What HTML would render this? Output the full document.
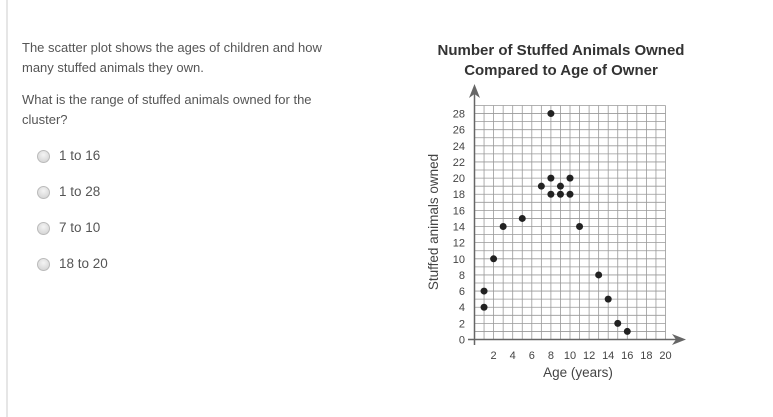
<!DOCTYPE html>
<html><head><style>
body{margin:0;width:773px;height:417px;background:#fff;position:relative;overflow:hidden;font-family:"Liberation Sans",Arial,sans-serif;color:#555}
.bar{position:absolute;left:6px;top:0;width:2px;height:417px;background:#e6e6e6}
.t{position:absolute;left:22px;font-size:13px;line-height:20px}
.r{position:absolute;left:37px;width:11px;height:11px;border-radius:50%;border:1px solid #bbb;background:radial-gradient(circle at 50% 35%,#f4f4f4,#cfcfcf)}
.o{position:absolute;left:59px;font-size:13.5px}
</style></head><body>
<div class="bar"></div>
<div class="t" style="top:38px">The scatter plot shows the ages of children and how<br>many stuffed animals they own.</div>
<div class="t" style="top:90px">What is the range of stuffed animals owned for the<br>cluster?</div>
<div class="r" style="top:150px"></div><div class="o" style="top:148px">1 to 16</div>
<div class="r" style="top:186px"></div><div class="o" style="top:184px">1 to 28</div>
<div class="r" style="top:222px"></div><div class="o" style="top:220px">7 to 10</div>
<div class="r" style="top:258px"></div><div class="o" style="top:256px">18 to 20</div>
<svg width="773" height="417" style="position:absolute;left:0;top:0" font-family="Liberation Sans,Arial,sans-serif">
<text x="561" y="55" text-anchor="middle" font-size="15" font-weight="bold" fill="#333">Number of Stuffed Animals Owned</text>
<text x="561" y="75" text-anchor="middle" font-size="15" font-weight="bold" fill="#333">Compared to Age of Owner</text>
<g id="grid" stroke="#999" stroke-width="0.8"></g>
<line x1="474.5" y1="345" x2="474.5" y2="92" stroke="#666" stroke-width="1.5"/>
<polygon points="474.5,84 469,98 474.5,94 480,98" fill="#666"/>
<line x1="468" y1="339.5" x2="678" y2="339.5" stroke="#666" stroke-width="1.5"/>
<polygon points="686,339.5 672,334 676,339.5 672,345" fill="#666"/>
<g id="yl" font-size="11" fill="#444" text-anchor="end"></g>
<g id="xl" font-size="11" fill="#444" text-anchor="middle"></g>
<text x="578" y="377" text-anchor="middle" font-size="13.5" fill="#444">Age (years)</text>
<text transform="translate(438,222) rotate(-90)" text-anchor="middle" font-size="13.5" fill="#444">Stuffed animals owned</text>
<g id="pts" fill="#222"></g>
</svg>
<script>
var X=function(v){return 474.5+v*9.55},Y=function(v){return 339.5-v*8.07};
var ns="http://www.w3.org/2000/svg",g=document.getElementById('grid');
function el(p,t,a,tx){var e=document.createElementNS(ns,t);for(var k in a)e.setAttribute(k,a[k]);if(tx)e.textContent=tx;p.appendChild(e);}
for(var i=1;i<=20;i++)el(g,'line',{x1:X(i),x2:X(i),y1:Y(0),y2:Y(29)});
for(var j=1;j<=29;j++)el(g,'line',{x1:X(0),x2:X(20),y1:Y(j),y2:Y(j)});
for(var j=0;j<=28;j+=2)el(document.getElementById('yl'),'text',{x:465,y:Y(j)+4},''+j);
for(var i=2;i<=20;i+=2)el(document.getElementById('xl'),'text',{x:X(i),y:359},''+i);
[[1,6],[1,4],[2,10],[3,14],[5,15],[7,19],[8,28],[8,20],[8,18],[9,19],[9,18],[10,20],[10,18],[11,14],[13,8],[14,5],[15,2],[16,1]].forEach(function(p){el(document.getElementById('pts'),'circle',{cx:X(p[0]),cy:Y(p[1]),r:3.5});});
</script>
</body></html>
